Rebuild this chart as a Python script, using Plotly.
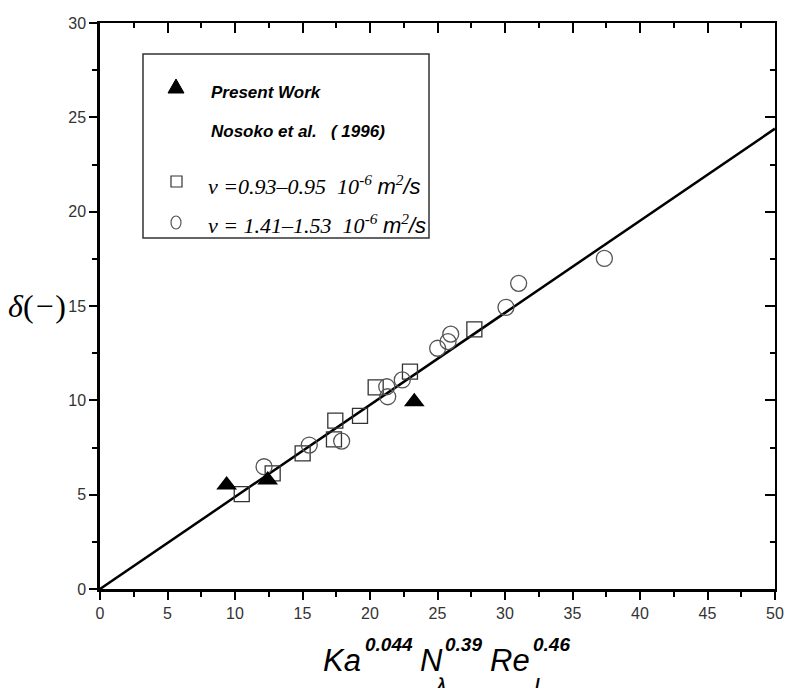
import plotly.graph_objects as go

# ---------------- data ----------------
present_x = [9.38, 12.42, 23.28]
present_y = [5.51, 5.78, 9.93]

nos_sq_x = [10.5, 12.79, 15.01, 17.33, 17.43, 19.26, 20.42, 22.96, 27.73]
nos_sq_y = [5.03, 6.13, 7.19, 7.93, 8.92, 9.18, 10.69, 11.52, 13.76]

nos_ci_x = [12.15, 15.5, 17.9, 21.24, 21.31, 22.39, 25.01, 25.78, 25.98, 30.07, 31.01, 37.36]
nos_ci_y = [6.48, 7.63, 7.84, 10.72, 10.19, 11.08, 12.76, 13.11, 13.51, 14.93, 16.2, 17.52]

fit_x = [0, 50]
fit_y = [0, 24.4]

x_ticks = [0, 5, 10, 15, 20, 25, 30, 35, 40, 45, 50]
y_ticks = [0, 5, 10, 15, 20, 25, 30]

# ---------------- geometry helpers ----------------
W, H = 785, 688
PL, PR, PT, PB = 100, 775, 23, 589      # plot area in window pixels


def px(xp):
    return xp / W


def py(yp):
    return (H - yp) / H


XDOM = [px(PL), px(PR)]
YDOM = [py(PB), py(PT)]

fig = go.Figure()

fig.add_trace(go.Scatter(x=fit_x, y=fit_y, mode="lines",
                         line=dict(color="black", width=2.5),
                         showlegend=False, hoverinfo="skip"))
fig.add_trace(go.Scatter(x=nos_sq_x, y=nos_sq_y, mode="markers",
                         marker=dict(symbol="square-open", size=15,
                                     color="#333", line=dict(width=1.3)),
                         name="Nosoko sq", showlegend=False))
fig.add_trace(go.Scatter(x=nos_ci_x, y=nos_ci_y, mode="markers",
                         marker=dict(symbol="circle-open", size=16,
                                     color="#555", line=dict(width=1.3)),
                         name="Nosoko ci", showlegend=False))
fig.add_trace(go.Scatter(x=present_x, y=present_y, mode="markers",
                         marker=dict(symbol="triangle-up", size=18, color="black"),
                         name="Present Work", showlegend=False))
# empty trace to create the mirrored (inward tick) axes
fig.add_trace(go.Scatter(x=[], y=[], xaxis="x2", yaxis="y2", showlegend=False))

tickfont = dict(family="Liberation Sans, Arial", size=16, color="#333")

common = dict(showgrid=False, zeroline=False, showline=True, linecolor="black",
              tickcolor="black", tickmode="array", automargin=False)

fig.update_layout(
    width=W, height=H,
    margin=dict(l=0, r=0, t=0, b=0, pad=0),
    paper_bgcolor="white", plot_bgcolor="white",
    xaxis=dict(range=[0, 50], domain=XDOM, tickvals=x_ticks, ticks="outside", ticklen=8,
               tickwidth=2, linewidth=2.5, tickfont=tickfont,
               minor=dict(dtick=2.5, tick0=0, ticks="outside", ticklen=5,
                          tickwidth=2, tickcolor="black"), **common),
    yaxis=dict(range=[0, 30], domain=YDOM, tickvals=y_ticks, ticks="outside", ticklen=8,
               tickwidth=2, linewidth=2.5, tickfont=tickfont,
               minor=dict(dtick=2.5, tick0=0, ticks="outside", ticklen=5,
                          tickwidth=2, tickcolor="black"), **common),
    xaxis2=dict(range=[0, 50], overlaying="x", side="top", tickvals=x_ticks,
                ticks="inside", ticklen=10, tickwidth=2, linewidth=2,
                showticklabels=False,
                minor=dict(dtick=2.5, tick0=0, ticks="inside", ticklen=5,
                           tickwidth=2, tickcolor="black"), **common),
    yaxis2=dict(range=[0, 30], overlaying="y", side="right", tickvals=y_ticks,
                ticks="inside", ticklen=10, tickwidth=2, linewidth=2,
                showticklabels=False,
                minor=dict(dtick=2.5, tick0=0, ticks="inside", ticklen=5,
                           tickwidth=2, tickcolor="black"), **common),
)

# ---------------- legend box (manual) ----------------
fig.add_shape(type="rect", xref="paper", yref="paper",
              x0=px(143), x1=px(429), y0=py(238), y1=py(54),
              line=dict(color="#333", width=1.5), fillcolor="white", layer="below")
fig.add_shape(type="path", xref="paper", yref="paper",
              path=f"M {px(168)} {py(93)} L {px(184)} {py(93)} L {px(176)} {py(79)} Z",
              fillcolor="black", line=dict(color="black", width=1))
fig.add_shape(type="rect", xref="paper", yref="paper",
              x0=px(171), x1=px(182), y0=py(187), y1=py(176),
              line=dict(color="#333", width=1.2))
fig.add_shape(type="circle", xref="paper", yref="paper",
              x0=px(171), x1=px(181), y0=py(229), y1=py(216),
              line=dict(color="#555", width=1.2))

bi = dict(family="Liberation Sans, Arial", size=17, color="black")
fig.add_annotation(text="<b><i>Present Work</i></b>", xref="paper", yref="paper",
                   x=px(209), y=py(92), xanchor="left", yanchor="middle",
                   showarrow=False, font=bi)
fig.add_annotation(text="<b><i>Nosoko et al.   ( 1996)</i></b>", xref="paper", yref="paper",
                   x=px(209), y=py(131), xanchor="left", yanchor="middle",
                   showarrow=False, font=bi)
serif = dict(family="Liberation Serif, Times New Roman", size=22, color="black")
SANS = "<span style='font-family:Liberation Sans, Arial'>"
fig.add_annotation(text=f"<i>ν =0.93–0.95  10<sup>-6</sup> {SANS}m</span><sup>2</sup>{SANS}/s</span></i>",
                   xref="paper", yref="paper", x=px(206), y=py(185),
                   xanchor="left", yanchor="middle", showarrow=False, font=serif)
fig.add_annotation(text=f"<i>ν = 1.41–1.53  10<sup>-6</sup> {SANS}m</span><sup>2</sup>{SANS}/s</span></i>",
                   xref="paper", yref="paper", x=px(206), y=py(224),
                   xanchor="left", yanchor="middle", showarrow=False, font=serif)

# ---------------- axis titles ----------------
fig.add_annotation(text="<i>δ</i>(<i>−</i>)", xref="paper", yref="paper",
                   x=px(37), y=py(306), xanchor="center", yanchor="middle",
                   showarrow=False,
                   font=dict(family="Liberation Serif, Times New Roman", size=32, color="black"))

base = dict(family="Liberation Sans, Arial", size=31, color="black")
supf = dict(family="Liberation Sans, Arial", size=19, color="black")
for txt, xl in [("Ka", 321), ("N", 418), ("Re", 488)]:
    fig.add_annotation(text=f"<i>{txt}</i>", xref="paper", yref="paper", x=px(xl), y=py(660),
                       xanchor="left", yanchor="middle", showarrow=False, font=base)
for txt, xl in [("0.044", 363), ("0.39", 443), ("0.46", 531)]:
    fig.add_annotation(text=f"<b><i>{txt}</i></b>", xref="paper", yref="paper", x=px(xl), y=py(644),
                       xanchor="left", yanchor="middle", showarrow=False, font=supf)
sub = dict(family="Liberation Sans, Arial", size=16, color="black")
fig.add_annotation(text="<b><i>λ</i></b>", xref="paper", yref="paper", x=px(441), y=py(684),
                   xanchor="center", yanchor="middle", showarrow=False, font=sub)
fig.add_annotation(text="<b><i>l</i></b>", xref="paper", yref="paper", x=px(537), y=py(684),
                   xanchor="center", yanchor="middle", showarrow=False, font=sub)

fig.write_html("out.html", config={"displayModeBar": False},
               post_script="document.body.style.margin='0';document.body.style.overflow='hidden';")
